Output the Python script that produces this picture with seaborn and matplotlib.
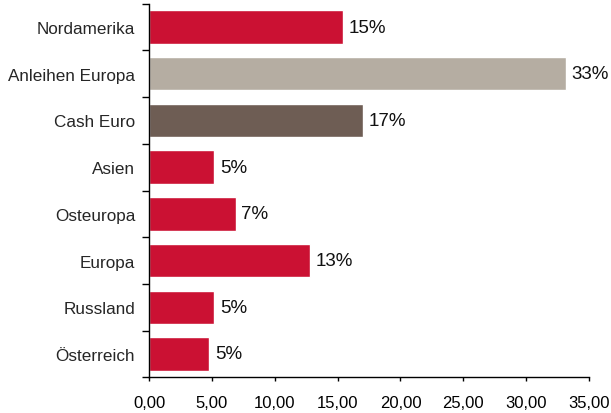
import matplotlib
matplotlib.use("Agg")
import matplotlib.pyplot as plt
import seaborn as sns
import pandas as pd

# data, top to bottom
regions = ["Nordamerika", "Anleihen Europa", "Cash Euro", "Asien",
           "Osteuropa", "Europa", "Russland", "Österreich"]
shares = [15.43, 33.15, 17.05, 5.18, 6.9, 12.83, 5.2, 4.8]
share_labels = ["15%", "33%", "17%", "5%", "7%", "13%", "5%", "5%"]
xticks = [0, 5, 10, 15, 20, 25, 30, 35]

red = "#CB1133"
colors = [red, "#B5ADA2", "#6E5D54", red, red, red, red, red]

sns.set_style("white")
plt.rcParams["font.family"] = ["Liberation Sans", "DejaVu Sans"]

df = pd.DataFrame({"region": regions, "share": shares})

fig = plt.figure(figsize=(6.11, 4.14), dpi=100)
ax = fig.add_axes([0.2439, 0.0862, 0.964 - 0.2439, 0.9886 - 0.0862])
sns.barplot(data=df, x="share", y="region", hue="region", palette=colors,
            legend=False, width=0.715, saturation=1, ax=ax)

for i, (v, lab) in enumerate(zip(shares, share_labels)):
    ax.text(v + 0.45, i, lab, va="center", ha="left", fontsize=13.5, color="#111111")

ax.set_xlim(0, 35)
ax.set_ylim(len(regions) - 0.5, -0.5)
ax.set_xticks(xticks)
ax.set_xticklabels([f"{t:.2f}".replace(".", ",") for t in xticks], fontsize=12)
ax.tick_params(axis="x", bottom=True, direction="out", length=3, width=1, pad=10, colors="black")

# category labels between boundary ticks
ax.set_yticks([i - 0.5 for i in range(len(regions) + 1)])
ax.set_yticklabels([])
ax.set_yticks(range(len(regions)), minor=True)
ax.set_yticklabels(regions, minor=True, fontsize=12.3)
ax.tick_params(axis="y", which="major", left=True, direction="out", length=5, width=1, colors="black")
ax.tick_params(axis="y", which="minor", left=True, length=0, pad=10)

ax.set_xlabel("")
ax.set_ylabel("")
for s in ["top", "right"]:
    ax.spines[s].set_visible(False)
for s in ["left", "bottom"]:
    ax.spines[s].set_color("black")
    ax.spines[s].set_linewidth(1)

fig.savefig("out.png", dpi=100)
